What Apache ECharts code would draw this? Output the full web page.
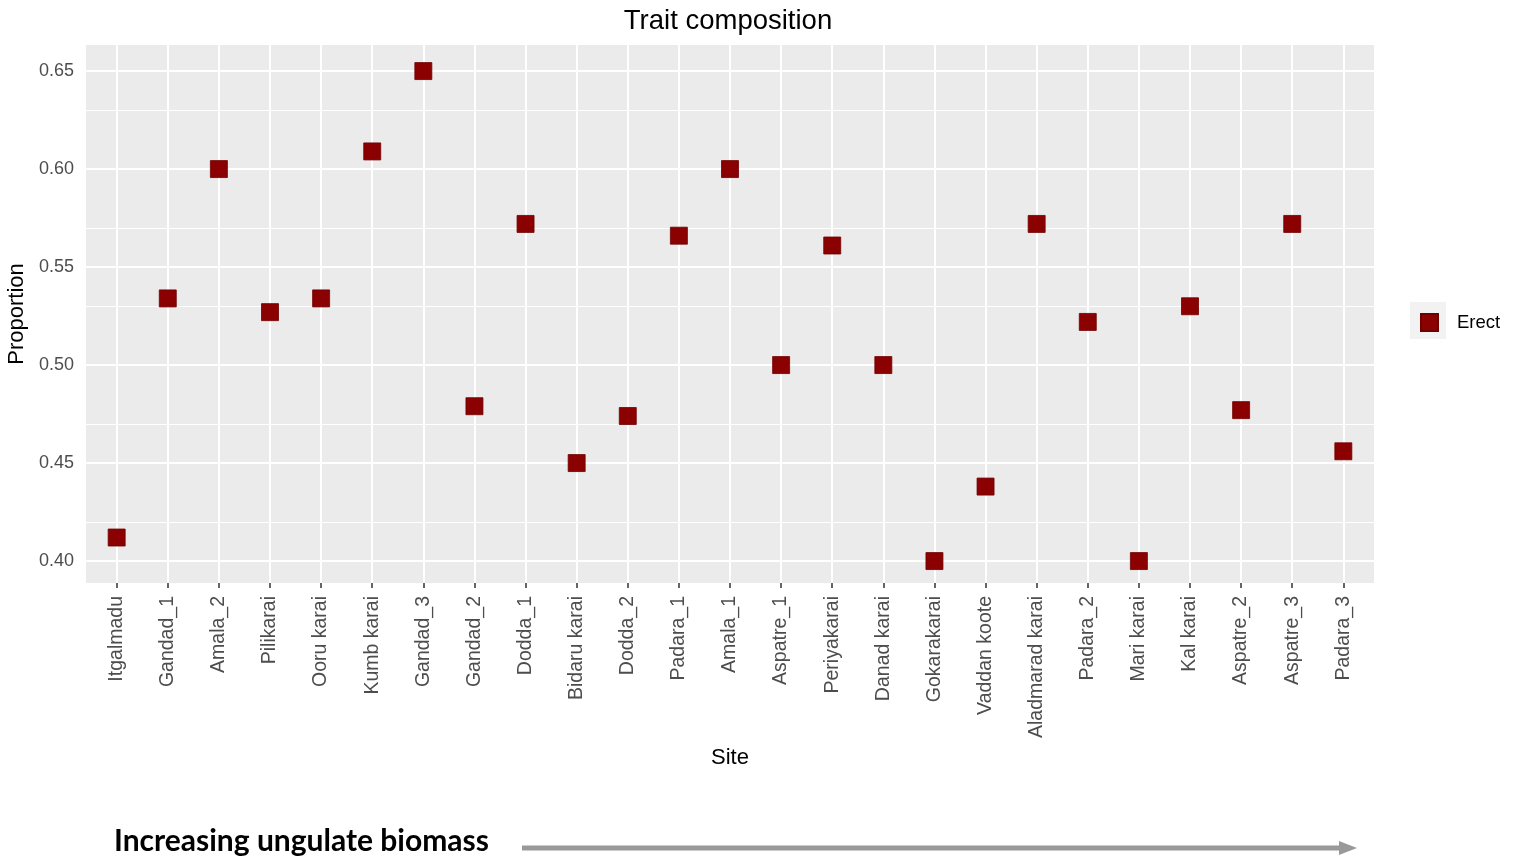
<!DOCTYPE html>
<html>
<head>
<meta charset="utf-8">
<title>Trait composition</title>
<script src="https://cdn.jsdelivr.net/npm/echarts@6/dist/echarts.min.js"></script>
<style>
  html, body { margin: 0; padding: 0; background: #fff; }
  #chart { width: 1523px; height: 865px; }
</style>
</head>
<body>
<div id="chart"></div>
<script>
// Sites, ordered by increasing ungulate biomass
const sites = [
  'Itgalmadu', 'Gandad_1', 'Amala_2', 'Pilikarai', 'Ooru karai', 'Kumb karai',
  'Gandad_3', 'Gandad_2', 'Dodda_1', 'Bidaru karai', 'Dodda_2', 'Padara_1',
  'Amala_1', 'Aspatre_1', 'Periyakarai', 'Danad karai', 'Gokarakarai',
  'Vaddan koote', 'Aladmarad karai', 'Padara_2', 'Mari karai', 'Kal karai',
  'Aspatre_2', 'Aspatre_3', 'Padara_3'
];

// Proportion of erect species at each site
const erect = [
  0.412, 0.534, 0.600, 0.527, 0.534, 0.609,
  0.650, 0.479, 0.572, 0.450, 0.474, 0.566,
  0.600, 0.500, 0.561, 0.500, 0.400,
  0.438, 0.572, 0.522, 0.400, 0.530,
  0.477, 0.572, 0.456
];

// Axis breaks
const yTicks = [0.40, 0.45, 0.50, 0.55, 0.60, 0.65];
const yMinor = [0.425, 0.475, 0.525, 0.575, 0.625];
const xTicks = sites.map((_, i) => i);

const chart = echarts.init(document.getElementById('chart'), null, { renderer: 'canvas' });

const tickColor = '#333333';
const labelColor = '#4D4D4D';
const font = 'Liberation Sans, Arial, sans-serif';

// White panel grid lines, drawn beneath the points
function gridLines(name, lines, width) {
  return {
    name: name,
    type: 'scatter',
    data: [],
    z: 1,
    silent: true,
    markLine: {
      z: 1,
      silent: true,
      animation: false,
      symbol: ['none', 'none'],
      label: { show: false },
      emphasis: { disabled: true },
      lineStyle: { color: '#FFFFFF', width: width, type: 'solid' },
      data: lines
    }
  };
}

const option = {
  animation: false,
  backgroundColor: '#FFFFFF',
  title: {
    text: 'Trait composition',
    left: 723,
    top: 2,
    textAlign: 'center',
    textStyle: { fontFamily: font, fontSize: 27.5, fontWeight: 'normal', color: '#000000' }
  },
  grid: {
    left: 86, right: 149, top: 45, bottom: 282,
    outerBoundsMode: 'none',
    containLabel: false,
    show: true, backgroundColor: '#EBEBEB', borderWidth: 0
  },
  legend: {
    data: ['Erect'],
    left: 1420,
    top: 313,
    padding: 0,
    itemWidth: 17,
    itemHeight: 17,
    selectedMode: false,
    textStyle: { fontFamily: font, fontSize: 18.5, color: '#000000', padding: [0, 0, 0, 14] }
  },
  xAxis: {
    type: 'value',
    min: -0.6,
    max: 24.6,
    name: 'Site',
    nameLocation: 'middle',
    nameGap: 164,
    nameTextStyle: { fontFamily: font, fontSize: 22, color: '#000000' },
    axisLine: { show: false },
    splitLine: { show: false },
    axisTick: { show: true, customValues: xTicks, length: 5, lineStyle: { color: tickColor, width: 1.5 } },
    axisLabel: {
      customValues: xTicks,
      rotate: 90,
      margin: 13,
      fontFamily: font,
      fontSize: 19.5,
      color: labelColor,
      formatter: v => sites[Math.round(v)]
    }
  },
  yAxis: {
    type: 'value',
    min: 0.3888,
    max: 0.6633,
    name: 'Proportion',
    nameLocation: 'middle',
    nameGap: 50,
    nameTextStyle: { fontFamily: font, fontSize: 22, color: '#000000' },
    axisLine: { show: false },
    splitLine: { show: false },
    axisTick: { show: true, customValues: yTicks, length: 5, lineStyle: { color: tickColor, width: 1.5 } },
    axisLabel: {
      customValues: yTicks,
      margin: 12,
      fontFamily: font,
      fontSize: 18,
      color: labelColor,
      formatter: v => v.toFixed(2)
    }
  },
  series: [
    gridLines('minor', yMinor.map(v => ({ yAxis: v })), 1),
    gridLines('major', yTicks.map(v => ({ yAxis: v })).concat(xTicks.map(v => ({ xAxis: v }))), 2),
    {
      name: 'Erect',
      type: 'scatter',
      z: 10,
      symbol: 'rect',
      symbolSize: 17,
      itemStyle: { color: '#8B0000', borderColor: '#6E0000', borderWidth: 0.8, opacity: 1 },
      data: erect.map((v, i) => [i, v])
    }
  ],
  graphic: [
    {
      type: 'rect',
      z: -1,
      shape: { x: 1410, y: 302, width: 36, height: 37 },
      style: { fill: '#F2F2F2' }
    },
    {
      type: 'text',
      left: 114,
      top: 826,
      style: {
        text: 'Increasing ungulate biomass',
        fontFamily: 'Lato, Open Sans, sans-serif',
        fontWeight: 'bold',
        fontSize: 30,
        fill: '#000000'
      }
    },
    {
      type: 'line',
      shape: { x1: 522, y1: 848, x2: 1341, y2: 848 },
      style: { stroke: '#999999', lineWidth: 5 }
    },
    {
      type: 'polygon',
      shape: { points: [[1339, 841], [1357, 848], [1339, 855]] },
      style: { fill: '#999999' }
    }
  ]
};

chart.setOption(option);
</script>
</body>
</html>
